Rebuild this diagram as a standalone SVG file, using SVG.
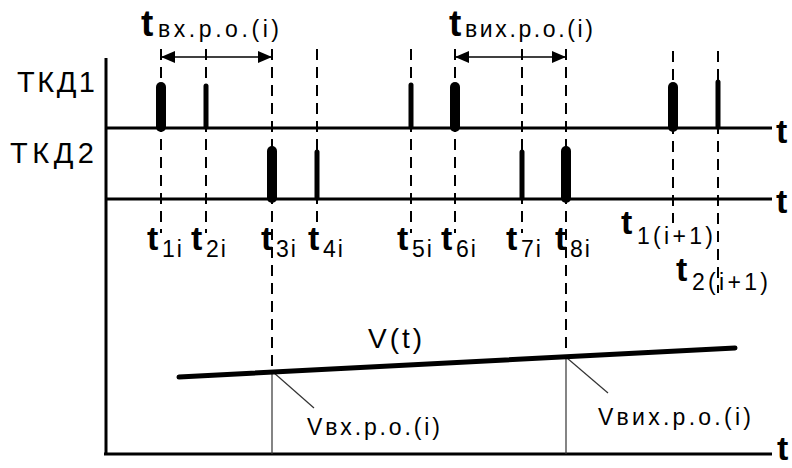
<svg xmlns="http://www.w3.org/2000/svg" width="792" height="468" viewBox="0 0 792 468">
<style>
text{font-family:"Liberation Sans",Arial,sans-serif;fill:#000}
.big{font-size:37px;font-weight:bold}
.lt{font-size:34px;font-weight:bold}
.sub{font-size:23px}
.lbl{font-size:29px}
.ax{stroke:#000;stroke-width:3;fill:none}
.dash{stroke:#000;stroke-width:2;stroke-dasharray:11 7;fill:none}
.pk{stroke:#000;stroke-width:10;stroke-linecap:round}
.pn{stroke:#000;stroke-width:5;stroke-linecap:round}
.thin{stroke:#333;stroke-width:1.2;fill:none}
.arr{stroke:#000;stroke-width:1.5;fill:none;marker-start:url(#ah);marker-end:url(#ah)}
</style>
<defs>
<marker id="ah" viewBox="0 0 14 12" refX="14" refY="6" markerWidth="14" markerHeight="12" markerUnits="userSpaceOnUse" orient="auto-start-reverse">
<path d="M0,0 L14,6 L0,12 z" fill="#000"/>
</marker>
</defs>

<g id="axes">
<line class="ax" x1="106" y1="58" x2="106" y2="455"/>
<line class="ax" x1="106" y1="128" x2="772" y2="128"/>
<line class="ax" x1="106" y1="199" x2="772" y2="199"/>
<line class="ax" x1="104" y1="454" x2="772" y2="454"/>
<text class="lt" x="776" y="143">t</text>
<text class="lt" x="776" y="213">t</text>
<text class="lt" x="777" y="460" font-size="31">t</text>
</g>

<g id="tkd1">
<text class="lbl" x="17" y="92" textLength="78">ТКД1</text>
<line class="pk" x1="161" y1="87" x2="161" y2="127"/>
<line class="pn" x1="206" y1="86" x2="206" y2="127"/>
<line class="pn" x1="411" y1="85" x2="411" y2="127"/>
<line class="pk" x1="455" y1="87" x2="455" y2="127"/>
<line class="pk" x1="673" y1="87" x2="673" y2="127"/>
<line class="pn" x1="718" y1="82" x2="718" y2="127"/>
</g>

<g id="tkd2">
<text class="lbl" x="10" y="163" textLength="84">ТКД2</text>
<line class="pk" x1="272" y1="151" x2="272" y2="198"/>
<line class="pn" x1="317" y1="152" x2="317" y2="198"/>
<line class="pn" x1="522" y1="152" x2="522" y2="198"/>
<line class="pk" x1="566" y1="151" x2="566" y2="198"/>
</g>

<g id="connectors">
<line class="dash" x1="161" y1="49" x2="161" y2="233"/>
<line class="dash" x1="206" y1="49" x2="206" y2="233"/>
<line class="dash" x1="272" y1="49" x2="272" y2="371"/>
<line class="dash" x1="317" y1="49" x2="317" y2="228"/>
<line class="dash" x1="411" y1="49" x2="411" y2="233"/>
<line class="dash" x1="455" y1="49" x2="455" y2="233"/>
<line class="dash" x1="522" y1="49" x2="522" y2="233"/>
<line class="dash" x1="566" y1="49" x2="566" y2="357"/>
<line class="dash" x1="673" y1="51" x2="673" y2="223"/>
<line class="dash" x1="718" y1="51" x2="718" y2="293"/>
<line class="arr" x1="161" y1="57" x2="272" y2="57"/>
<line class="arr" x1="455" y1="57" x2="566" y2="57"/>
<line class="thin" x1="272" y1="371" x2="272" y2="454"/>
<line class="thin" x1="566" y1="357" x2="566" y2="454"/>
<line class="thin" x1="273" y1="372" x2="314" y2="408"/>
<line class="thin" x1="567" y1="358" x2="608" y2="393"/>
</g>

<g id="label-t-in">
<text class="big" x="141" y="36">t</text>
<text class="sub" x="158" y="37" textLength="121">вх.р.о.(i)</text>
</g>
<g id="label-t-out">
<text class="big" x="449" y="36">t</text>
<text class="sub" x="465" y="37" textLength="128">вих.р.о.(i)</text>
</g>

<g id="t-labels">
<g id="t1i"><text class="lt" x="147" y="250">t</text><text class="sub" x="162" y="257" letter-spacing="2">1i</text></g>
<g id="t2i"><text class="lt" x="191" y="250">t</text><text class="sub" x="206" y="257" letter-spacing="2">2i</text></g>
<g id="t3i"><text class="lt" x="261" y="250">t</text><text class="sub" x="276" y="257" letter-spacing="2">3i</text></g>
<g id="t4i"><text class="lt" x="308" y="250">t</text><text class="sub" x="323" y="257" letter-spacing="2">4i</text></g>
<g id="t5i"><text class="lt" x="397" y="250">t</text><text class="sub" x="412" y="257" letter-spacing="2">5i</text></g>
<g id="t6i"><text class="lt" x="441" y="250">t</text><text class="sub" x="456" y="257" letter-spacing="2">6i</text></g>
<g id="t7i"><text class="lt" x="506" y="250">t</text><text class="sub" x="521" y="257" letter-spacing="2">7i</text></g>
<g id="t8i"><text class="lt" x="555" y="250">t</text><text class="sub" x="570" y="257" letter-spacing="2">8i</text></g>
<g id="t1i1"><text class="lt" x="621" y="234">t</text><text class="sub" x="637" y="244" textLength="76">1(i+1)</text></g>
<g id="t2i1"><text class="lt" x="676" y="281">t</text><text class="sub" x="692" y="290" textLength="76">2(i+1)</text></g>
</g>

<g id="v-line">
<line x1="179" y1="377" x2="735" y2="348" stroke="#000" stroke-width="5" stroke-linecap="round"/>
<text x="368" y="348" font-size="28" textLength="54">V(t)</text>
</g>
<g id="v-in"><text x="307" y="435" font-size="23" textLength="133">Vвх.р.о.(i)</text></g>
<g id="v-out"><text x="598" y="425" font-size="23" textLength="153">Vвих.р.о.(i)</text></g>
</svg>
